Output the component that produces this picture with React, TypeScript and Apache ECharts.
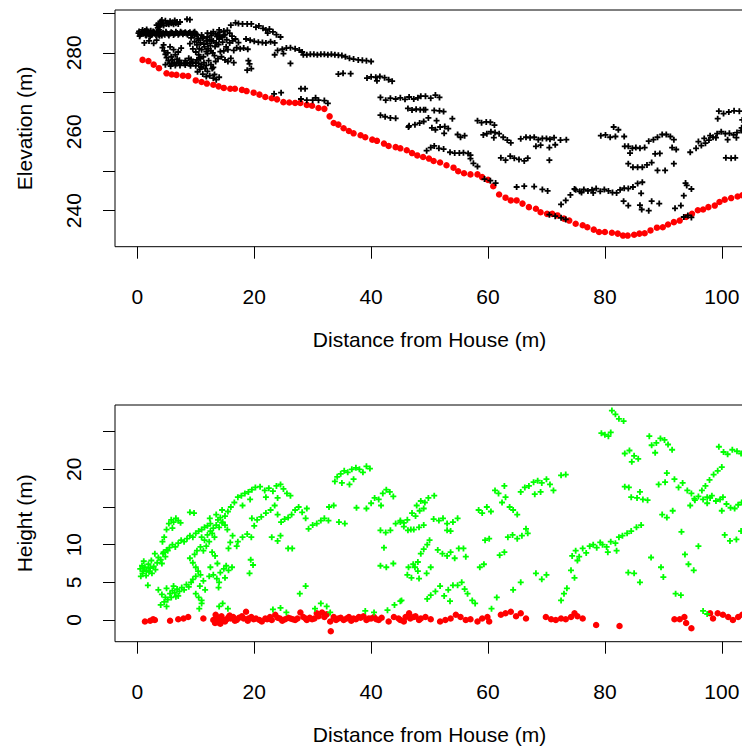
import React, { useEffect, useRef } from "react";
import * as echarts from "echarts";

const xTicks = [0, 20, 40, 60, 80, 100];
const elevTicks = [240, 250, 260, 270, 280, 290];
const elevLabels = [240, 260, 280];
const heightTicks = [0, 5, 10, 15, 20, 25];
const heightLabels = [0, 5, 10, 20];

// Top panel: ground elevation (red)
const groundElev: [number, number][] = [
  [0.9, 278.2], [1.9, 277.9], [2.8, 277.0], [3.7, 276.1], [5.0, 274.8], [5.9, 274.5], [6.7, 274.4], [7.8, 274.2],
  [8.7, 274.1], [10.0, 273.0], [11.0, 272.6], [11.9, 272.2], [13.0, 271.9], [13.9, 271.5], [14.8, 271.1], [15.9, 270.9],
  [16.7, 270.9], [17.9, 270.6], [18.7, 270.3], [19.9, 269.9], [20.9, 269.4], [21.9, 268.8], [23.0, 268.5], [23.9, 268.2],
  [25.0, 267.5], [26.0, 267.4], [27.0, 267.3], [27.9, 267.3], [29.0, 266.8], [29.9, 266.6], [31.0, 266.0], [32.0, 265.8],
  [32.9, 263.9], [33.6, 262.2], [34.4, 261.8], [35.3, 260.9], [36.2, 260.2], [37.0, 259.6], [38.2, 259.1], [39.0, 258.6],
  [40.2, 258.0], [41.0, 257.7], [42.2, 257.0], [43.0, 256.4], [44.2, 256.1], [45.0, 255.8], [46.1, 255.3], [47.0, 254.6],
  [47.9, 254.0], [48.9, 253.6], [49.9, 253.2], [50.7, 252.6], [51.8, 252.2], [52.9, 251.5], [54.1, 250.9], [54.9, 250.0],
  [55.9, 249.5], [57.0, 249.2], [58.2, 249.2], [59.0, 248.5], [60.0, 247.8], [60.9, 246.2], [61.9, 244.1], [63.0, 243.3],
  [63.9, 242.6], [64.9, 242.6], [65.9, 241.8], [67.0, 240.9], [68.2, 240.5], [69.0, 239.6], [70.1, 239.2], [71.0, 239.2],
  [71.9, 238.8], [73.0, 238.0], [73.9, 237.5], [75.0, 236.7], [76.2, 236.3], [77.0, 235.8], [78.1, 235.2], [79.0, 234.6],
  [80.0, 234.6], [81.2, 234.4], [82.2, 234.2], [83.1, 233.7], [83.9, 233.7], [85.0, 233.9], [85.9, 234.2], [86.8, 234.3],
  [87.8, 235.0], [88.9, 235.7], [89.9, 235.8], [90.8, 236.5], [91.8, 237.1], [92.8, 237.5], [93.9, 238.4], [94.9, 239.2],
  [95.9, 240.1], [96.8, 240.3], [97.7, 240.9], [98.8, 241.3], [99.6, 242.2], [100.5, 242.8], [101.6, 243.2], [102.7, 243.6],
  [103.5, 243.9]
];

// Top panel: vegetation returns (black +)
const canopyElev: [number, number][] = [
  [0.2, 285.0], [0.5, 284.6], [0.8, 285.3], [1.0, 284.8], [1.3, 285.5], [1.5, 284.4], [1.8, 285.1], [2.0, 284.7],
  [2.3, 285.6], [2.6, 284.9], [2.9, 285.2], [3.2, 284.5], [3.5, 285.0], [3.8, 284.3], [4.1, 284.8], [4.4, 285.1],
  [4.7, 284.6], [5.0, 285.0], [5.3, 284.7], [5.6, 284.9], [6.0, 285.0], [6.4, 284.8], [6.8, 285.0], [7.2, 284.9],
  [7.6, 285.1], [8.0, 285.0], [8.4, 284.9], [8.8, 285.0], [9.2, 284.8], [9.6, 285.1], [10.0, 284.9], [0.4, 284.2],
  [0.9, 285.8], [1.6, 285.9], [2.2, 284.1], [1.2, 282.5], [2.0, 283.0], [2.8, 282.4], [3.3, 283.2],
  [0.3, 285.4], [0.7, 284.9], [1.1, 285.2], [1.4, 284.6], [1.7, 285.4], [2.1, 285.0], [2.4, 284.5], [2.7, 285.4],
  [3.0, 284.8], [3.3, 285.3], [3.6, 284.6], [3.9, 285.2], [4.2, 284.4], [4.5, 284.9], [4.9, 285.3], [5.4, 284.4],
  [5.8, 285.2], [6.2, 284.5], [6.6, 285.3], [7.0, 284.6], [7.4, 285.3], [7.8, 284.7], [8.2, 285.2], [8.6, 284.6],
  [9.0, 285.2], [9.4, 284.5], [9.8, 285.3], [10.2, 284.6],
  [3.6, 287.4], [4.0, 287.9], [4.4, 287.5], [4.8, 288.1], [5.2, 287.6], [5.6, 288.0], [6.0, 287.7], [6.4, 288.2],
  [6.8, 287.8], [7.0, 287.3], [3.8, 286.6], [4.5, 286.9], [3.5, 286.3], [3.7, 285.8], [5.4, 287.2], [6.2, 287.2],
  [3.3, 287.0], [4.2, 288.3], [5.0, 287.3], [5.8, 287.5], [6.6, 287.5], [7.3, 287.8], [3.9, 287.2],
  [8.5, 288.5], [9.0, 288.4],
  [9.0, 282.3], [9.8, 282.8], [10.5, 283.2], [11.2, 283.6], [12.0, 284.0], [12.7, 284.4], [13.4, 284.8], [14.1, 285.2],
  [14.8, 285.5], [15.4, 285.7], [13.0, 285.3], [14.0, 285.8], [12.0, 285.0], [11.0, 284.5],
  [4.3, 281.3], [4.6, 280.5], [4.8, 279.6], [5.0, 278.8], [5.3, 278.0], [5.5, 277.4], [5.9, 277.2], [6.3, 277.5],
  [6.7, 277.3], [7.1, 277.6], [7.5, 277.4], [8.0, 277.3], [8.5, 277.5], [9.0, 277.2], [9.5, 277.6], [10.0, 277.4],
  [10.5, 277.3], [11.0, 277.0], [11.4, 277.5], [5.2, 280.0], [5.8, 279.0], [6.5, 279.5], [7.0, 280.2], [6.2, 280.8],
  [7.5, 281.2], [4.5, 282.0], [6.0, 278.2], [7.2, 278.1], [8.2, 278.0], [9.2, 278.3], [10.2, 278.2], [5.6, 281.5],
  [4.8, 277.0], [5.7, 276.6], [6.5, 276.8], [7.3, 276.8], [8.2, 276.9], [9.1, 276.7], [10.0, 276.7], [10.9, 276.4],
  [11.8, 276.8], [12.6, 277.0], [13.0, 276.3], [6.8, 278.4], [8.8, 278.6], [10.6, 278.8],
  [9.5, 281.0], [10.0, 280.2], [10.5, 279.5], [11.0, 280.8], [11.5, 281.5], [12.0, 282.3], [12.5, 281.8], [13.0, 283.0],
  [13.5, 282.5], [14.0, 283.5], [14.5, 284.0], [10.8, 278.5], [11.3, 279.0], [12.0, 279.8], [12.6, 280.5], [13.2, 279.3],
  [13.8, 278.5], [14.4, 279.0], [15.0, 278.2], [15.5, 277.8], [16.0, 278.6], [16.5, 277.5], [9.2, 283.8], [9.8, 284.3],
  [10.4, 283.6], [15.2, 281.5], [15.8, 282.5], [16.3, 283.0], [13.4, 277.8], [14.8, 280.5], [12.2, 278.0], [11.8, 283.0],
  [12.4, 283.3], [13.6, 284.1], [15.0, 284.6],
  [10.2, 282.0], [10.8, 282.5], [11.4, 282.2], [12.1, 281.0], [12.7, 282.9], [13.3, 281.6], [13.9, 282.1], [14.6, 282.7],
  [15.3, 283.3], [10.6, 281.0], [11.8, 280.3], [12.9, 280.0], [14.2, 280.3], [15.5, 280.8], [11.2, 284.0], [12.6, 284.9],
  [13.8, 284.5], [14.8, 284.4], [15.8, 285.0], [16.2, 284.2], [16.8, 283.5], [17.3, 282.6],
  [10.3, 275.2], [11.2, 274.6], [12.0, 275.3], [12.8, 276.0], [11.8, 274.0],
  [12.4, 274.2], [13.0, 273.6], [13.5, 273.2], [14.0, 273.8], [13.2, 274.5], [10.7, 275.8], [11.6, 276.0],
  [16.0, 287.0], [16.8, 287.6], [17.3, 287.4], [18.0, 287.3], [18.8, 287.3], [19.5, 287.3],
  [17.0, 281.3], [17.6, 281.0], [18.2, 281.2], [18.9, 280.9], [16.5, 280.6],
  [19.0, 278.0], [19.2, 277.2], [18.8, 275.6], [19.5, 276.0],
  [20.3, 286.5], [20.8, 286.8], [21.5, 286.2], [22.0, 285.8], [22.6, 286.0], [23.2, 285.3], [23.8, 284.6], [24.5, 284.0],
  [22.3, 285.0],
  [18.6, 283.5], [19.3, 283.2], [20.0, 282.9], [20.7, 282.7], [21.4, 282.6], [22.0, 282.5], [22.8, 282.8], [23.5, 282.5],
  [23.5, 279.5], [24.0, 280.6], [24.8, 280.9], [25.5, 281.2], [26.2, 281.3], [27.0, 281.0], [27.7, 280.7], [28.2, 280.2],
  [25.0, 279.8], [26.2, 277.3],
  [28.4, 279.5], [29.0, 279.5], [29.6, 279.6], [30.2, 279.6], [30.8, 279.5], [31.4, 279.6], [32.0, 279.6], [32.6, 279.5],
  [33.2, 279.6], [33.8, 279.5], [34.4, 279.4], [35.0, 279.3], [35.6, 279.0], [36.3, 278.6], [37.0, 278.4], [37.8, 278.2],
  [38.5, 278.1], [39.2, 278.0], [40.0, 277.8],
  [34.4, 274.6], [35.2, 274.8], [36.5, 274.7],
  [39.3, 273.6], [40.0, 273.9], [40.8, 273.8], [41.5, 274.0], [42.3, 273.7], [43.0, 273.2], [43.6, 272.8], [41.0, 272.9],
  [28.0, 270.9], [28.7, 270.9], [23.4, 269.6], [24.6, 269.9],
  [28.0, 268.3], [29.0, 268.0], [30.0, 268.0], [31.0, 268.0], [32.0, 267.9], [32.6, 267.2], [30.5, 268.6],
  [41.6, 268.7], [42.5, 268.0], [43.3, 268.5], [44.2, 268.3], [45.0, 268.6], [45.8, 268.2], [46.5, 268.8], [47.3, 268.3],
  [48.0, 268.6], [48.5, 269.0], [49.3, 269.0], [50.2, 268.5], [51.0, 269.3], [51.7, 268.7],
  [41.6, 264.2], [42.4, 263.8], [43.3, 263.5], [44.2, 263.4],
  [46.3, 265.9], [47.0, 265.5], [47.7, 265.7], [48.4, 265.6], [49.0, 265.6], [49.3, 265.6], [50.8, 265.4], [51.7, 265.3],
  [52.4, 265.1],
  [46.5, 261.5], [47.5, 261.8], [48.3, 262.2], [46.4, 261.2], [49.0, 262.6], [49.8, 263.5],
  [50.4, 261.0], [51.0, 260.5], [51.8, 261.2], [52.6, 261.3], [53.2, 260.8], [53.9, 263.3], [51.2, 262.8], [52.5, 259.6],
  [54.8, 259.3], [55.3, 258.6], [56.0, 259.0],
  [49.5, 255.2], [50.2, 256.0], [50.8, 256.4], [51.6, 255.8], [52.4, 255.6], [53.5, 254.8], [54.3, 254.6], [55.1, 254.6],
  [55.8, 254.7], [56.6, 254.5], [57.0, 254.1], [57.0, 253.2], [57.5, 252.0], [58.2, 251.2],
  [58.2, 262.8], [58.9, 262.3], [59.7, 262.5], [60.4, 262.4], [61.1, 261.7],
  [59.2, 259.2], [59.8, 259.5], [60.5, 260.0], [61.2, 259.8], [61.9, 259.5], [62.6, 258.6], [63.3, 257.9], [63.9, 257.2],
  [61.0, 258.5],
  [62.2, 253.4], [63.0, 252.8], [63.8, 253.8], [64.5, 253.3], [65.3, 253.0], [66.2, 252.6], [66.8, 253.3],
  [59.4, 248.0], [60.4, 247.6], [61.3, 247.0],
  [65.6, 258.2], [66.5, 258.6], [67.2, 258.5], [67.9, 258.6], [68.6, 258.0], [69.3, 258.3], [70.0, 258.3], [70.6, 258.1],
  [71.3, 258.5], [68.2, 256.3], [69.0, 256.6], [70.5, 256.0], [71.5, 256.7], [70.5, 252.8], [72.4, 257.9], [73.4, 258.0],
  [64.9, 246.0], [66.2, 246.2], [67.9, 246.1], [69.3, 245.4], [70.2, 245.0],
  [72.5, 241.6], [73.3, 242.6], [74.1, 244.0], [74.8, 245.5],
  [70.5, 239.0], [71.5, 238.6], [72.5, 238.2], [73.3, 237.8],
  [75.0, 245.3], [75.7, 244.9], [76.4, 245.4], [77.1, 245.0], [77.8, 245.3], [78.5, 245.6], [79.2, 244.9], [79.9, 245.4],
  [80.6, 245.0], [81.3, 244.6], [82.0, 244.5], [76.0, 244.6], [78.0, 244.5],
  [82.6, 245.3], [83.3, 245.7], [84.0, 245.6], [84.8, 246.0], [85.6, 246.9], [86.4, 247.2],
  [79.3, 259.0], [80.1, 259.2], [80.9, 258.6], [81.8, 258.8], [81.5, 261.2], [82.3, 260.5], [83.3, 258.8],
  [83.2, 242.4], [84.0, 241.3], [86.0, 241.4], [86.3, 240.3],
  [83.4, 256.3], [84.0, 256.3], [84.7, 255.8], [85.3, 256.0], [86.0, 255.8], [84.3, 254.6],
  [84.0, 251.9], [84.8, 251.0], [85.6, 251.0], [86.4, 251.0], [87.2, 251.6], [88.0, 252.2],
  [86.8, 256.0], [87.5, 257.6], [88.3, 258.0], [89.0, 258.6], [89.8, 259.3], [90.5, 259.3], [91.2, 258.8], [91.8, 258.0],
  [88.6, 254.4], [89.4, 254.5], [91.5, 256.0], [92.2, 255.5],
  [89.0, 250.2], [90.3, 250.2], [91.8, 251.9],
  [86.2, 244.4], [88.0, 242.4], [89.3, 241.8], [87.5, 240.0],
  [92.0, 240.6], [93.0, 241.3], [94.0, 246.4], [94.8, 245.5], [93.5, 243.8], [94.8, 238.3], [93.8, 247.0],
  [93.5, 238.4], [94.2, 238.8],
  [94.6, 254.8], [95.6, 255.8], [96.5, 256.5], [97.2, 257.1], [97.8, 257.9], [98.5, 258.6], [99.2, 259.5], [99.9, 260.0],
  [100.6, 259.5], [101.3, 259.6], [102.0, 259.2], [102.6, 259.8], [103.3, 260.3], [98.0, 259.0], [99.0, 258.5],
  [101.0, 258.0], [102.5, 258.5], [96.0, 257.5], [97.0, 258.3],
  [99.5, 265.2], [100.3, 264.6], [101.2, 265.0], [102.1, 265.3], [103.0, 265.2], [103.5, 263.0], [99.3, 263.3],
  [100.7, 253.4], [101.6, 253.3], [102.3, 253.4], [103.4, 261.0]
];

// Bottom panel: vegetation height (green +)
const vegHeight: [number, number][] = [
  [0.5, 6.8], [0.8, 7.2], [1.0, 6.5], [1.3, 7.0], [1.6, 6.6], [1.9, 7.4], [2.2, 6.9], [2.5, 6.2], [2.8, 7.1],
  [3.1, 6.7], [3.4, 7.6], [0.6, 5.8], [1.5, 5.9], [2.4, 7.9], [1.1, 7.8], [0.9, 6.2], [2.0, 6.4],
  [3.6, 8.3], [4.0, 8.0], [4.4, 8.8], [4.8, 8.4], [5.2, 9.2], [3.0, 8.8], [4.2, 7.5], [1.8, 4.6],
  [3.6, 4.0], [4.2, 3.4], [4.8, 3.0], [5.2, 2.7], [5.6, 3.5], [6.0, 3.9], [6.4, 3.6], [6.8, 4.1], [7.2, 3.8],
  [7.6, 4.3], [8.0, 4.0], [8.4, 4.7], [8.8, 4.4], [5.0, 4.2], [6.2, 4.5], [7.0, 3.2], [4.6, 2.4], [9.2, 5.0],
  [9.5, 5.4], [10.0, 5.8], [4.0, 2.0], [5.0, 1.8], [5.8, 3.0], [6.6, 3.1],
  [5.5, 9.6], [6.0, 10.0], [6.5, 9.7], [7.0, 10.2], [7.5, 10.6], [8.0, 10.4], [8.5, 10.8], [9.0, 11.2], [9.5, 11.0],
  [10.0, 11.5], [10.5, 11.8], [11.0, 12.0], [11.5, 12.3], [12.0, 12.5], [12.5, 12.8], [4.5, 9.0], [5.0, 9.3],
  [4.6, 11.0], [5.0, 12.0], [5.4, 12.8], [5.8, 13.3], [6.2, 13.0], [6.6, 13.5], [7.0, 13.2], [7.4, 12.9], [6.0, 12.2],
  [4.3, 10.4], [9.0, 14.3], [9.7, 14.2],
  [9.0, 8.2], [9.5, 7.6], [10.0, 7.0], [10.4, 6.5], [10.8, 6.0], [9.8, 8.7], [10.2, 9.2], [10.8, 9.7], [10.0, 3.5],
  [10.5, 3.0], [11.0, 2.6], [10.7, 4.5], [11.3, 5.2], [11.6, 4.0],
  [11.0, 11.0], [11.5, 10.6], [12.0, 11.3], [12.5, 11.8], [13.0, 12.2], [13.5, 12.6], [14.0, 12.3], [14.5, 12.9],
  [13.2, 11.0], [12.3, 10.4], [11.8, 9.8], [11.3, 9.2], [12.8, 11.5], [13.8, 13.3], [14.6, 13.0], [15.0, 12.6], [15.4, 12.0],
  [12.4, 13.5], [13.5, 14.0], [14.5, 14.6], [15.5, 14.4], [15.0, 13.8], [14.2, 13.6],
  [12.8, 9.0], [13.3, 8.5], [13.7, 7.5], [12.5, 7.0], [13.0, 6.0], [13.6, 5.5], [14.0, 5.0], [12.3, 5.8], [13.9, 4.3],
  [14.2, 6.3], [14.8, 6.8], [15.2, 7.2], [15.6, 6.6], [15.0, 5.6], [16.2, 7.0],
  [15.6, 9.5], [15.9, 10.3], [16.3, 11.2], [14.0, 1.8], [14.6, 2.2], [15.5, 1.5], [10.6, 1.5], [11.0, 2.2],
  [16.0, 15.0], [16.6, 15.6], [17.2, 16.3], [17.8, 16.5], [18.4, 16.8], [19.0, 17.0], [19.6, 17.3], [20.2, 17.6],
  [19.3, 16.0], [18.0, 15.2],
  [17.2, 10.4], [18.0, 11.0], [18.8, 11.4], [19.5, 11.0], [17.0, 9.8], [19.4, 8.0], [19.8, 7.3], [19.2, 6.2],
  [21.0, 17.7], [21.8, 17.2], [22.5, 17.5], [23.2, 17.1], [23.8, 17.8], [24.5, 18.0], [25.0, 17.4], [25.6, 16.8],
  [26.2, 16.5], [22.0, 16.3], [24.0, 16.2],
  [19.6, 13.5], [20.5, 13.3], [21.2, 13.7], [22.0, 14.2], [22.8, 14.6], [23.5, 15.2], [24.0, 14.0], [20.0, 12.5],
  [23.0, 11.0], [24.0, 10.5], [24.5, 11.2], [25.8, 9.5], [26.5, 9.5], [27.8, 3.5], [28.8, 4.5],
  [23.2, 1.4], [24.5, 1.6], [25.5, 1.0],
  [24.6, 13.0], [25.2, 13.4], [25.8, 13.6], [26.4, 14.0], [27.0, 14.6], [27.6, 15.0], [28.2, 14.3], [28.8, 13.5], [29.0, 14.8],
  [29.3, 12.1], [30.0, 12.6], [30.7, 12.8], [31.4, 13.2], [32.0, 13.5], [32.7, 13.2], [32.8, 15.0], [33.6, 15.2],
  [30.4, 1.5], [31.4, 2.2], [32.4, 1.8], [33.0, 1.0],
  [33.8, 18.4], [34.2, 19.0], [34.8, 19.4], [35.4, 19.8], [36.0, 19.6], [36.7, 20.0], [37.4, 20.2], [38.0, 20.0],
  [38.6, 19.6], [39.2, 20.4], [39.8, 20.1], [35.0, 18.2], [36.3, 18.0], [37.0, 18.7],
  [34.5, 13.0], [35.5, 12.8], [37.5, 14.9],
  [39.2, 14.8], [40.0, 15.5], [40.6, 16.2], [41.3, 16.0], [42.0, 16.8], [42.6, 17.3], [43.2, 17.0], [43.8, 16.4], [41.7, 15.2],
  [41.6, 11.9], [42.5, 11.6], [43.3, 11.9], [42.2, 9.6], [41.6, 7.2], [42.6, 7.0], [43.8, 7.5],
  [44.2, 12.8], [45.0, 13.0], [45.6, 12.4], [46.2, 13.3], [46.8, 12.0], [47.6, 13.8], [48.3, 14.5],
  [46.2, 6.0], [46.9, 5.6], [47.5, 7.0], [48.0, 6.5], [42.8, 1.3], [44.0, 2.0], [45.0, 2.5], [39.0, 1.2], [40.5, 1.0],
  [45.0, 13.2], [45.6, 12.9], [47.0, 14.2],
  [47.8, 15.2], [48.5, 15.8], [49.2, 15.6], [49.8, 16.2], [50.8, 16.5], [49.0, 14.8],
  [50.7, 13.4], [51.6, 13.2], [52.3, 13.5], [53.0, 12.8], [54.0, 13.0], [54.8, 13.5],
  [46.3, 11.9], [47.3, 12.0], [48.2, 12.3], [49.0, 12.6], [53.0, 11.9], [53.6, 11.8],
  [48.5, 8.8], [49.0, 9.4], [49.6, 10.0], [50.0, 10.6], [46.4, 7.0], [47.2, 7.4], [48.0, 7.7], [48.2, 5.5],
  [50.2, 7.0], [49.5, 6.2],
  [51.4, 9.3], [52.2, 8.8], [53.0, 8.5], [53.6, 9.0], [54.3, 8.2], [55.0, 9.5], [55.8, 9.5], [56.2, 8.4],
  [49.6, 2.8], [50.2, 3.3], [51.0, 3.8], [51.8, 4.5], [52.5, 3.2], [53.2, 4.0], [54.0, 4.6], [54.8, 4.6], [55.5, 5.0],
  [56.0, 4.1], [56.5, 3.5], [57.3, 2.6], [57.8, 2.2], [53.5, 2.5], [45.2, 2.6],
  [58.4, 14.6], [59.0, 14.2], [59.8, 15.0], [60.5, 14.4], [61.2, 17.2], [61.8, 16.8], [62.4, 15.6], [63.0, 16.3],
  [63.7, 15.0], [64.3, 14.6], [65.0, 14.0], [62.8, 17.8],
  [59.5, 10.6], [60.2, 10.8], [62.0, 8.6], [62.8, 9.0], [58.6, 7.0], [59.3, 7.4],
  [63.4, 11.0], [64.2, 11.3], [65.0, 10.8], [65.8, 11.2], [66.5, 12.1], [66.8, 11.5],
  [61.5, 3.0], [60.6, 1.5], [64.3, 4.0], [65.6, 5.0],
  [65.6, 17.0], [66.3, 17.6], [67.0, 17.8], [67.8, 18.3], [68.5, 18.5], [69.2, 18.2], [70.0, 18.7], [70.6, 18.0],
  [71.2, 17.2], [69.0, 17.0], [68.0, 16.7], [72.5, 19.2], [73.3, 19.3],
  [68.2, 6.2], [69.2, 5.4], [70.0, 6.0], [72.5, 2.6], [73.0, 3.5], [73.5, 4.2],
  [74.4, 8.5], [75.0, 9.2], [75.6, 8.4], [76.2, 9.5], [76.8, 8.9], [77.4, 9.8], [78.0, 10.0], [78.6, 9.6], [79.2, 10.3],
  [75.3, 7.9], [74.2, 6.6], [74.8, 5.6],
  [79.6, 10.0], [80.3, 9.7], [81.0, 10.4], [81.8, 10.2], [82.4, 11.0], [83.0, 11.2], [83.8, 11.5], [84.5, 11.8],
  [85.4, 12.3], [86.2, 12.6], [80.5, 9.0], [82.0, 9.2],
  [79.4, 24.8], [80.0, 24.6], [80.6, 24.4], [81.0, 24.9], [81.2, 27.8], [81.8, 27.3], [82.4, 26.7], [83.2, 26.4],
  [83.4, 22.1], [84.2, 22.5], [85.0, 21.8], [85.7, 21.4], [84.6, 21.0],
  [87.6, 24.4], [88.0, 23.2], [88.8, 23.5], [89.5, 24.1], [90.2, 23.9], [90.8, 23.3], [91.5, 22.6], [88.6, 22.2],
  [83.4, 17.7], [84.1, 17.6], [84.5, 16.3], [85.5, 16.2], [86.5, 16.0], [87.3, 15.9], [86.0, 17.0],
  [89.2, 18.0], [90.3, 18.3], [89.8, 14.0], [90.6, 13.6], [91.6, 14.5], [90.6, 19.5], [91.9, 18.7],
  [84.0, 6.3], [85.0, 6.2], [86.0, 5.0], [87.9, 8.3], [89.6, 7.0], [90.0, 5.7], [92.1, 3.5], [93.0, 3.3], [93.1, 11.7],
  [92.6, 17.6], [93.3, 18.2], [94.1, 17.2], [94.8, 16.8], [95.3, 16.1], [93.7, 8.7], [94.3, 7.4], [95.2, 6.6], [96.0, 9.8],
  [94.6, 15.2], [95.4, 15.9], [96.0, 16.4], [96.6, 17.2], [97.2, 17.8], [97.9, 18.6], [98.6, 19.3], [99.3, 19.8],
  [100.0, 20.3], [96.8, 16.0], [98.0, 16.2], [99.0, 15.8], [97.5, 15.5], [97.5, 16.3], [98.3, 16.5], [99.7, 16.0],
  [99.5, 23.0], [100.3, 22.3], [101.0, 22.0], [101.8, 22.6], [102.6, 22.4], [103.3, 22.1],
  [100.2, 16.3], [100.8, 15.4], [101.5, 14.9], [102.2, 14.8], [102.8, 15.3], [103.4, 15.6], [100.0, 14.5],
  [100.5, 11.3], [101.4, 10.5], [102.5, 10.7], [103.3, 11.8], [96.8, 1.2], [97.5, 0.8]
];

// Bottom panel: ground returns (red)
const groundHeight: [number, number][] = [
  [1.3, -0.2], [2.2, -0.1], [2.7, 0.1], [3.0, 0.0], [5.6, -0.1], [7.0, 0.1], [7.9, 0.2], [8.7, 0.4], [11.3, 0.2],
  [13.0, 0.0], [13.3, -0.4], [13.6, 0.4], [14.1, 0.2], [14.7, 0.0], [15.6, 0.35], [16.4, 0.4], [17.0, 0.0], [17.9, 0.5],
  [18.6, 1.1], [19.0, 0.2], [19.9, 0.1], [20.9, 0.0], [21.9, 0.2], [22.7, 0.4], [23.6, 0.7], [24.4, 0.2], [25.3, 0.1],
  [26.2, 0.2], [27.0, 0.0], [27.9, 1.0], [28.4, 0.4], [29.0, 0.0], [29.9, 0.1], [30.7, 0.9], [31.6, 1.0], [32.4, 0.75],
  [33.0, -0.2], [33.1, -1.5], [33.6, 0.4], [34.4, 0.2], [35.3, 0.0], [36.2, 0.4], [37.0, 0.2], [37.9, 0.4], [38.7, 0.5],
  [39.6, 0.2], [40.5, 0.4], [41.3, 0.0], [43.0, -0.2], [43.9, 0.4], [44.7, 0.2], [45.6, -0.2], [46.5, 0.9], [47.3, 0.4],
  [48.2, 0.0],
  [13.8, -0.3], [14.4, 0.5], [15.0, -0.2], [15.3, 0.1], [16.0, 0.2], [16.7, -0.1], [17.4, 0.3], [18.2, 0.2], [18.9, -0.1],
  [19.5, 0.4], [20.3, 0.2], [21.3, -0.2], [22.2, 0.1], [23.0, 0.0], [24.0, 0.3], [24.8, -0.1], [25.8, 0.3], [26.6, 0.1],
  [27.4, 0.2], [28.8, 0.2], [29.5, 0.3], [30.3, 0.2], [31.0, 0.5], [32.0, 0.4], [34.0, 0.0], [34.8, 0.3], [35.8, 0.2],
  [36.6, -0.1], [37.4, 0.1], [38.2, 0.3], [39.2, 0.0], [40.0, 0.2], [40.9, 0.1], [41.8, 0.3], [13.4, 0.7], [14.2, -0.5],
  [15.8, 0.6],
  [45.0, 0.0], [45.9, 0.4], [46.7, 0.2], [47.6, 0.5], [48.5, 0.2], [49.3, 0.4], [50.2, 0.1], [51.8, -0.2], [52.7, 0.0],
  [53.6, 0.2], [54.5, 0.7], [55.3, 0.4], [56.2, 0.0], [57.0, 0.1], [58.2, -0.2], [59.0, 0.2], [59.9, 0.4], [60.2, -0.2],
  [62.2, 0.7], [63.0, 0.9], [63.9, 1.1], [64.8, 0.5], [65.6, 0.9], [66.5, 0.2], [69.9, 0.4], [70.8, 0.1], [71.6, 0.0],
  [72.5, 0.2], [73.3, 0.1], [74.2, 0.4], [74.8, 0.9], [75.3, 0.5], [76.2, 0.2], [78.5, -0.66], [82.5, -0.8],
  [91.9, 0.1], [92.8, 0.1], [93.6, 0.4], [93.9, -0.4], [94.8, -1.1], [98.0, 0.9], [98.5, 0.2], [99.3, 0.9],
  [100.2, 0.7], [101.1, 0.4], [101.9, 0.0], [102.8, 0.4], [103.5, 0.7]
];

const FONT = "'Liberation Sans', Arial, sans-serif";
const PLUS = "path://M0,3.5H10V6.5H0Z M3.5,0H6.5V10H3.5Z";

export default function App() {
  const ref = useRef<HTMLDivElement>(null);
  useEffect(() => {
    const chart = echarts.init(ref.current!, null, { renderer: "svg" });
    const textStyle = { fontSize: 21, color: "#000", fontFamily: FONT };
    const xAxisFor = (gridIndex: number) => ({
      type: "value",
      gridIndex,
      min: -3.82,
      max: 103.8,
      axisLine: { show: false, onZero: false },
      splitLine: { show: false },
      axisTick: { show: true, length: 12, customValues: xTicks, lineStyle: { color: "#000", width: 1 } },
      axisLabel: { customValues: xTicks, margin: 39, ...textStyle },
      name: "Distance from House (m)",
      nameLocation: "middle",
      nameGap: 82,
      nameTextStyle: textStyle
    });
    const yAxisFor = (gridIndex: number, min: number, max: number, ticks: number[], labels: number[], name: string) => ({
      type: "value",
      gridIndex,
      min,
      max,
      axisLine: { show: false, onZero: false },
      splitLine: { show: false },
      axisTick: { show: true, length: 12, customValues: ticks, lineStyle: { color: "#000", width: 1 } },
      axisLabel: { customValues: labels, rotate: 90, margin: 31, ...textStyle },
      name,
      nameLocation: "middle",
      nameRotate: 90,
      nameGap: 80,
      nameTextStyle: textStyle
    });
    const gridFor = (top: number) => ({
      left: 115,
      top,
      width: 629,
      height: 236.7,
      show: true,
      borderColor: "#000",
      borderWidth: 1,
      backgroundColor: "transparent"
    });
    chart.setOption({
      animation: false,
      backgroundColor: "#fff",
      grid: [gridFor(10), gridFor(405)],
      xAxis: [xAxisFor(0), xAxisFor(1)],
      yAxis: [
        yAxisFor(0, 230.88, 290.84, elevTicks, elevLabels, "Elevation (m)"),
        yAxisFor(1, -2.88, 28.54, heightTicks, heightLabels, "Height (m)")
      ],
      series: [
        {
          type: "scatter",
          xAxisIndex: 0,
          yAxisIndex: 0,
          data: groundElev,
          symbol: "circle",
          symbolSize: 6.5,
          itemStyle: { color: "#ff0000", opacity: 1 }
        },
        {
          type: "scatter",
          xAxisIndex: 0,
          yAxisIndex: 0,
          data: canopyElev,
          symbol: PLUS,
          symbolSize: 6,
          itemStyle: { color: "#000000", opacity: 1 }
        },
        {
          type: "scatter",
          xAxisIndex: 1,
          yAxisIndex: 1,
          data: groundHeight,
          symbol: "circle",
          symbolSize: 6.5,
          itemStyle: { color: "#ff0000", opacity: 1 }
        },
        {
          type: "scatter",
          xAxisIndex: 1,
          yAxisIndex: 1,
          data: vegHeight,
          symbol: PLUS,
          symbolSize: 6,
          itemStyle: { color: "#00ff00", opacity: 1 }
        }
      ]
    });
    return () => chart.dispose();
  }, []);
  return (
    <div
      style={{
        position: "fixed",
        left: 0,
        top: 0,
        width: 742,
        height: 751,
        overflow: "hidden",
        background: "#fff"
      }}
    >
      <div ref={ref} style={{ width: 760, height: 751 }} />
    </div>
  );
}
